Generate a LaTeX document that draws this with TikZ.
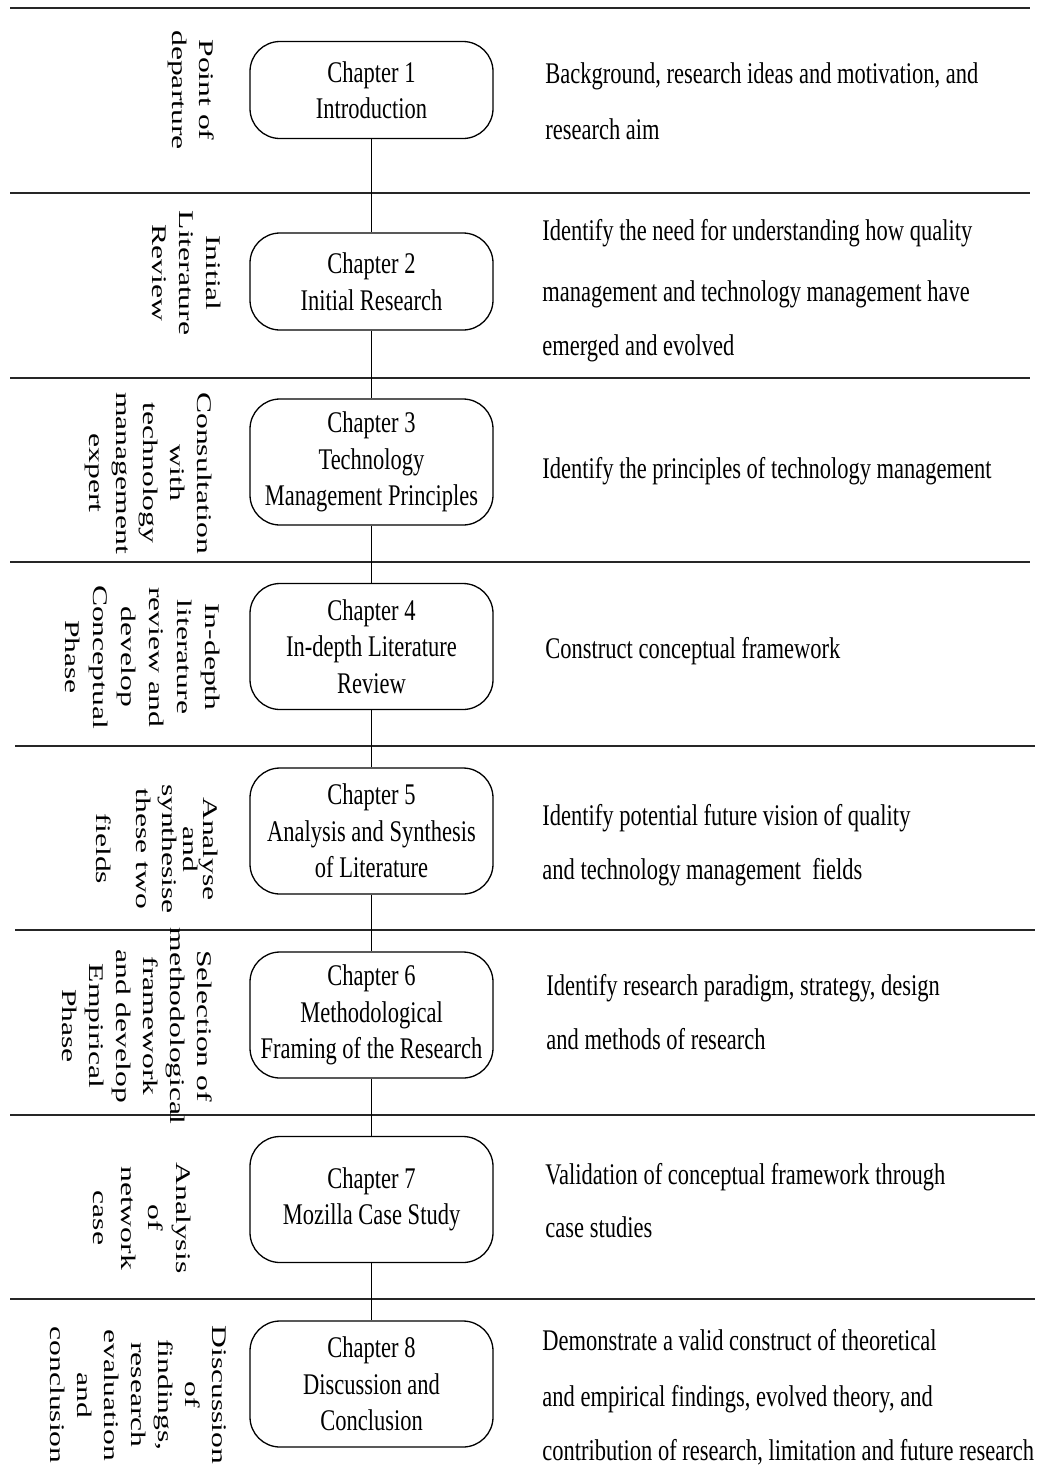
\documentclass[tikz,border=0pt]{standalone}
\usepackage{fontspec}
\setmainfont{Liberation Serif}
\newfontfamily\narrowserif[FakeStretch=0.75]{Liberation Serif}
\newfontfamily\wideserif[FakeStretch=1.52]{Liberation Serif}
\begin{document}
\begin{tikzpicture}[x=0.5pt,y=-0.5pt,
  chapterbox/.style={draw, line width=0.65pt, rounded corners=15pt,
    minimum width=121.5pt, inner sep=0pt, align=center,
    font=\narrowserif\fontsize{15}{18.25}\selectfont},
  shortbox/.style={minimum height=48.5pt},
  tallbox/.style={minimum height=63pt},
  descline/.style={anchor=base west, inner sep=0pt,
    font=\narrowserif\fontsize{15}{18}\selectfont},
  phaselabel/.style={rotate=-90, anchor=north, align=center, inner sep=0pt,
    font=\wideserif\fontsize{10.4}{13.5}\selectfont},
  rowrule/.style={line width=0.9pt, black!85},
  spine/.style={line width=0.75pt}]
\useasboundingbox (0,0) rectangle (1048,1479);

% row separators
\draw[rowrule] (10,8) -- (1030,8);
\draw[rowrule] (10,193) -- (1030,193);
\draw[rowrule] (10,378) -- (1030,378);
\draw[rowrule] (10,562) -- (1030,562);
\draw[rowrule] (15,746) -- (1035,746);
\draw[rowrule] (15,930) -- (1035,930);
\draw[rowrule] (10,1115) -- (1035,1115);
\draw[rowrule] (10,1299) -- (1035,1299);

% chapter boxes
\node[chapterbox, shortbox] (c1) at (371.5,90)   {Chapter 1\\Introduction};
\node[chapterbox, shortbox] (c2) at (371.5,281.5) {Chapter 2\\Initial Research};
\node[chapterbox, tallbox]  (c3) at (371.5,462)  {Chapter 3\\Technology\\Management Principles};
\node[chapterbox, tallbox]  (c4) at (371.5,646.5) {Chapter 4\\In-depth Literature\\Review};
\node[chapterbox, tallbox]  (c5) at (371.5,831)  {Chapter 5\\Analysis and Synthesis\\of Literature};
\node[chapterbox, tallbox]  (c6) at (371.5,1015) {Chapter 6\\Methodological\\Framing of the Research};
\node[chapterbox, tallbox]  (c7) at (371.5,1199.5) {Chapter 7\\Mozilla Case Study};
\node[chapterbox, tallbox]  (c8) at (371.5,1384) {Chapter 8\\Discussion and\\Conclusion};

% chapter sequence
\draw[spine] (c1) -- (c2) (c2) -- (c3) (c3) -- (c4) (c4) -- (c5)
             (c5) -- (c6) (c6) -- (c7) (c7) -- (c8);

% phase labels
\node[phaselabel] (p1) at (215,90) {Point of\\departure};
\node[phaselabel] (p2) at (221,273) {Initial\\Literature\\Review};
\node[phaselabel] (p3) at (212,473) {Consultation\\with\\technology\\management\\expert};
\node[phaselabel, font=\wideserif\fontsize{10.4}{14}\selectfont] (p4) at (220,657)
  {In-depth\\literature\\review and\\develop\\Conceptual\\Phase};
\node[phaselabel] (p5) at (218,849)
  {Analyse\\[-3.5pt]and\\[-3pt]synthesise\\[-0.5pt]these two\\[6.5pt]fields};
\node[phaselabel] (p6) at (213,1026)
  {Selection of\\methodological\\framework\\and develop\\Empirical\\Phase};
\node[phaselabel, font=\wideserif\fontsize{10.4}{13.75}\selectfont] (p7) at (191,1218)
  {Analysis\\of\\network\\case};
\node[phaselabel] (p8) at (227,1395)
  {Discussion\\of\\findings,\\research\\evaluation\\and\\conclusion};

% chapter descriptions
\node[descline] (d1a) at (545,83)  {Background, research ideas and motivation, and};
\node[descline] (d1b) at (545,139) {research aim};
\node[descline] (d2a) at (542,240) {Identify the need for understanding how quality};
\node[descline] (d2b) at (542,301) {management and technology management have};
\node[descline] (d2c) at (542,355) {emerged and evolved};
\node[descline] (d3a) at (542,478) {Identify the principles of technology management};
\node[descline] (d4a) at (545,658) {Construct conceptual framework};
\node[descline] (d5a) at (542,825) {Identify potential future vision of quality};
\node[descline] (d5b) at (542,879) {and technology management\ \ fields};
\node[descline] (d6a) at (546,995) {Identify research paradigm, strategy, design};
\node[descline] (d6b) at (546,1049) {and methods of research};
\node[descline] (d7a) at (545,1184) {Validation of conceptual framework through};
\node[descline] (d7b) at (545,1237) {case studies};
\node[descline] (d8a) at (542,1350) {Demonstrate a valid construct of theoretical};
\node[descline] (d8b) at (542,1406) {and empirical findings, evolved theory, and};
\node[descline] (d8c) at (542,1460) {contribution of research, limitation and future research};
\end{tikzpicture}
\end{document}
